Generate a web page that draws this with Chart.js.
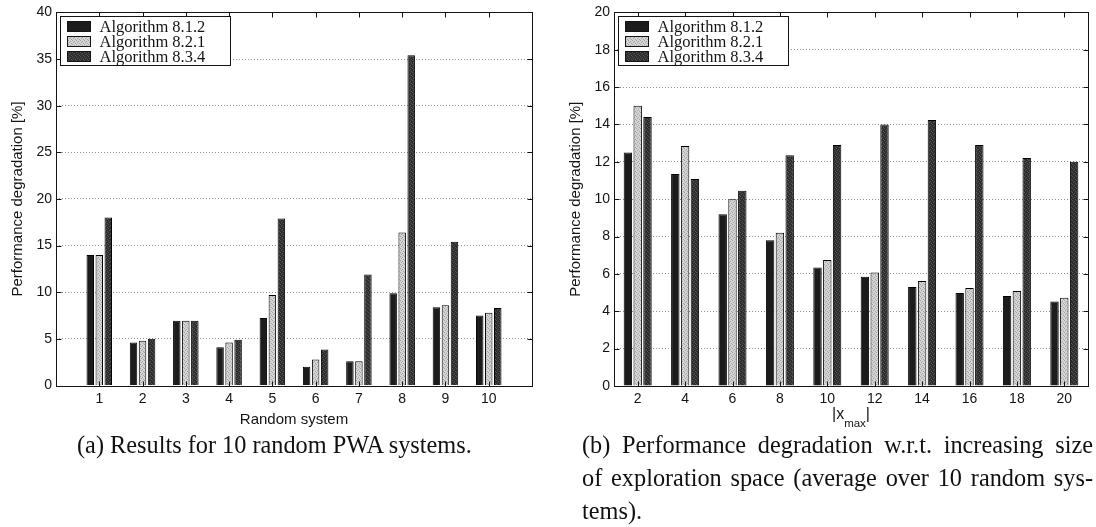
<!DOCTYPE html>
<html>
<head>
<meta charset="utf-8">
<script src="https://cdn.jsdelivr.net/npm/chart.js@4.4.1/dist/chart.umd.min.js"></script>
<style>
  html, body { margin: 0; padding: 0; background: #fff; width: 1096px; height: 527px; overflow: hidden; }
  #wrap { position: relative; width: 1096px; height: 527px; }
  canvas { position: absolute; top: 0; }
  #chartA { left: 0; }
  #chartB { left: 548px; }
  .cap { position: absolute; font-family: 'Liberation Serif', serif; font-size: 24.3px; color: #111; line-height: 33px; white-space: nowrap; }
  .cap .j { text-align: justify; text-align-last: justify; white-space: normal; }
</style>
</head>
<body>
<div id="wrap">
  <canvas id="chartA" width="548" height="430"></canvas>
  <canvas id="chartB" width="548" height="430"></canvas>
  <div class="cap" style="left:77px; top:428px;">(a) Results for 10 random PWA systems.</div>
  <div class="cap" style="left:582px; top:428px; width:511px;">
    <div class="j">(b) Performance degradation w.r.t. increasing size</div>
    <div class="j">of exploration space (average over 10 random sys-</div>
    <div>tems).</div>
  </div>
</div>
<script>
// Series names shared by both panels
const seriesNames = ['Algorithm 8.1.2', 'Algorithm 8.2.1', 'Algorithm 8.3.4'];

// Panel (a): ten random PWA systems
const systemLabels = ['1', '2', '3', '4', '5', '6', '7', '8', '9', '10'];
const sysAlg812 = [14.0, 4.6, 6.95, 4.1, 7.25, 2.0, 2.6, 9.9, 8.4, 7.5];
const sysAlg821 = [14.0, 4.8, 6.95, 4.6, 9.7, 2.8, 2.6, 16.4, 8.6, 7.8];
const sysAlg834 = [18.0, 5.0, 6.95, 4.9, 17.9, 3.85, 11.9, 35.4, 15.4, 8.3];

// Panel (b): growing exploration space |x_max|
const xmaxLabels = ['2', '4', '6', '8', '10', '12', '14', '16', '18', '20'];
const xmaxAlg812 = [12.5, 11.35, 9.2, 7.8, 6.35, 5.85, 5.3, 4.98, 4.82, 4.52];
const xmaxAlg821 = [15.0, 12.85, 10.0, 8.2, 6.75, 6.08, 5.62, 5.25, 5.09, 4.72];
const xmaxAlg834 = [14.4, 11.08, 10.45, 12.35, 12.9, 14.0, 14.24, 12.9, 12.2, 12.0];

const SANS = "'Liberation Sans', Arial, sans-serif";
const SERIF = "'Liberation Serif', serif";
const INK = '#141414';

// Fine stipple texture for the printed bar fills
function stipple(ctx, base, dot) {
  const c = document.createElement('canvas');
  c.width = 4; c.height = 4;
  const g = c.getContext('2d');
  g.fillStyle = base; g.fillRect(0, 0, 4, 4);
  g.fillStyle = dot;
  [[0, 0], [2, 1], [1, 2], [3, 3]].forEach(([px, py]) => g.fillRect(px, py, 1, 1));
  return ctx.createPattern(c, 'repeat');
}

// Box frame, inward ticks, boxed legend and axis titles
const framePlugin = {
  id: 'frame',
  afterDraw(chart, args, opts) {
    const { ctx, chartArea: a, scales: { x, y } } = chart;
    const L = 5;
    ctx.save();
    ctx.strokeStyle = INK;
    ctx.lineWidth = 1;
    const seg = (x1, y1, x2, y2) => { ctx.beginPath(); ctx.moveTo(x1, y1); ctx.lineTo(x2, y2); ctx.stroke(); };
    const left = Math.round(a.left) + 0.5, right = Math.round(a.right) + 0.5;
    const top = Math.round(a.top) + 0.5, bottom = Math.round(a.bottom) + 0.5;

    y.ticks.forEach(t => {
      const py = Math.round(y.getPixelForValue(t.value)) + 0.5;
      seg(left, py, left + L, py);
      seg(right, py, right - L, py);
    });
    x.ticks.forEach((t, i) => {
      if (!chart.data.labels[t.value]) return;
      const px = Math.round(x.getPixelForTick(i)) + 0.5;
      seg(px, bottom, px, bottom - L);
      seg(px, top, px, top + L);
    });
    ctx.strokeRect(left, top, right - left, bottom - top);

    // legend
    ctx.font = '16.5px ' + SERIF;
    const ds = chart.data.datasets;
    const textW = Math.max(...ds.map(d => ctx.measureText(d.label).width));
    const bx = left + 4, by = top + 4;
    const bw = Math.round(39 + textW + 25), bh = 49;
    ctx.fillStyle = '#fff';
    ctx.fillRect(bx, by, bw, bh);
    ctx.strokeRect(bx, by, bw, bh);
    ds.forEach((d, i) => {
      const cy = by + 10 + i * 15;
      ctx.fillStyle = d.backgroundColor;
      ctx.fillRect(bx + 7, cy - 5, 23, 10);
      ctx.strokeRect(bx + 7, cy - 5, 23, 10);
      ctx.fillStyle = INK;
      ctx.textAlign = 'left';
      ctx.textBaseline = 'middle';
      ctx.fillText(d.label, bx + 39, cy + 1);
    });

    // y title
    ctx.fillStyle = INK;
    ctx.font = '15px ' + SANS;
    ctx.save();
    ctx.translate(opts.yTitleX, (a.top + a.bottom) / 2);
    ctx.rotate(-Math.PI / 2);
    ctx.textAlign = 'center';
    ctx.textBaseline = 'middle';
    ctx.fillText(opts.yTitle, 0, 0);
    ctx.restore();

    // x title (optional subscript part)
    const cx = (a.left + a.right) / 2;
    ctx.textBaseline = 'middle';
    ctx.textAlign = 'left';
    const parts = opts.xTitle;
    const widths = parts.map(p => { ctx.font = p.size + 'px ' + SANS; return ctx.measureText(p.text).width; });
    let px = cx - widths.reduce((s, w) => s + w, 0) / 2;
    parts.forEach((p, i) => {
      ctx.font = p.size + 'px ' + SANS;
      ctx.fillText(p.text, px, opts.xTitleY + (p.dy || 0));
      px += widths[i];
    });
    ctx.restore();
  }
};

function buildChart(id, o) {
  const canvas = document.getElementById(id);
  const ctx = canvas.getContext('2d');
  const fills = ['#1c1c1c', stipple(ctx, '#d4d4d4', '#a2a2a2'), stipple(ctx, '#2e2e2e', '#555555')];
  const tickFont = { family: SANS, size: 14 };
  return new Chart(ctx, {
    type: 'bar',
    data: {
      labels: o.labels,
      datasets: o.series.map((d, i) => ({
        label: seriesNames[i],
        data: d,
        backgroundColor: fills[i],
        borderColor: '#000',
        borderWidth: 1,
        categoryPercentage: o.catPct,
        barPercentage: o.barPct
      }))
    },
    options: {
      responsive: false,
      animation: false,
      devicePixelRatio: 1,
      layout: { padding: o.padding },
      plugins: {
        legend: { display: false },
        tooltip: { enabled: false },
        frame: { yTitle: 'Performance degradation [%]', yTitleX: o.yTitleX, xTitle: o.xTitle, xTitleY: o.xTitleY }
      },
      scales: {
        x: {
          offset: o.offset,
          grid: { display: false, drawTicks: false },
          border: { display: false },
          ticks: { font: tickFont, color: INK, padding: 5, maxRotation: 0, autoSkip: false },
          afterFit: s => { s.height = o.xHeight; }
        },
        y: {
          min: 0,
          max: o.yMax,
          ticks: { stepSize: o.yStep, font: tickFont, color: INK, padding: 4 },
          grid: {
            drawTicks: false,
            lineWidth: 1,
            color: c => (c.tick.value === 0 || c.tick.value === o.yMax) ? 'rgba(0,0,0,0)' : '#8e8e8e'
          },
          border: { display: false, dash: [1, 2] },
          afterFit: s => { s.width = o.yWidth; }
        }
      }
    },
    plugins: [framePlugin]
  });
}

// (a) category axis padded by one empty slot on each side
buildChart('chartA', {
  labels: ['', ...systemLabels, ''],
  series: [sysAlg812, sysAlg821, sysAlg834].map(s => [null, ...s, null]),
  offset: false,
  catPct: 0.625,
  barPct: 0.83,
  yMax: 40,
  yStep: 5,
  padding: { top: 10, right: 16, left: 0, bottom: 0 },
  yWidth: 56,
  xHeight: 44.5,
  yTitleX: 17.5,
  xTitle: [{ text: 'Random system', size: 15 }],
  xTitleY: 420
});

// (b)
buildChart('chartB', {
  labels: xmaxLabels,
  series: [xmaxAlg812, xmaxAlg821, xmaxAlg834],
  offset: true,
  catPct: 0.62,
  barPct: 0.86,
  yMax: 20,
  yStep: 2,
  padding: { top: 10.5, right: 8, left: 0, bottom: 0 },
  yWidth: 66,
  xHeight: 44,
  yTitleX: 28,
  xTitle: [{ text: '|x', size: 16 }, { text: 'max', size: 11.5, dy: 9 }, { text: '|', size: 16 }],
  xTitleY: 415
});
</script>
</body>
</html>
